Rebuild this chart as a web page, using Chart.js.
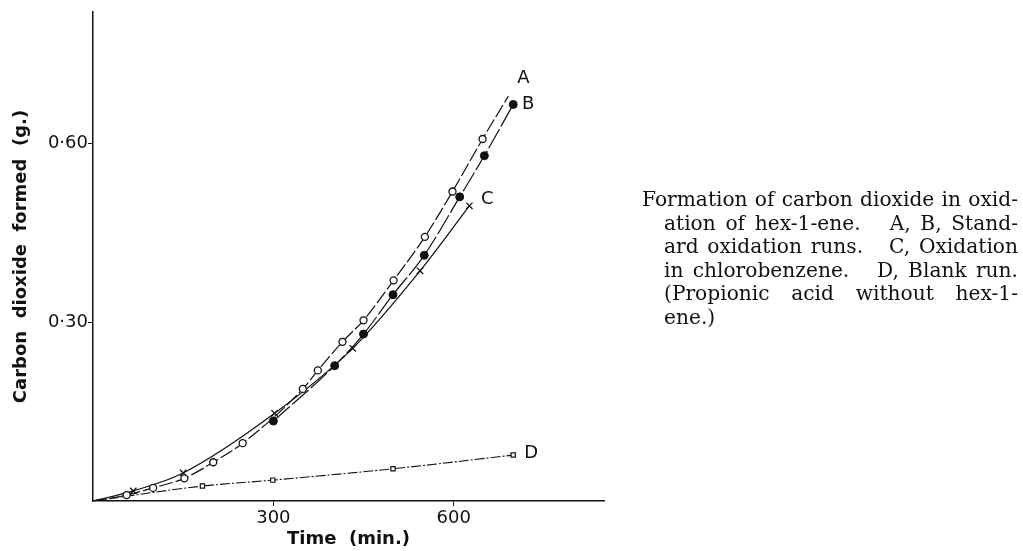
<!DOCTYPE html>
<html>
<head>
<meta charset="utf-8">
<script src="https://cdn.jsdelivr.net/npm/chart.js@4.4.1/dist/chart.umd.min.js"></script>
<style>
  html, body { margin: 0; padding: 0; background: #fff; }
  #wrap { position: relative; width: 1023px; height: 551px; }
  #caption {
    position: absolute; left: 642px; top: 188px; width: 376px;
    font-family: "DejaVu Serif", serif; font-size: 17px; line-height: 23.5px; color: #111;
  }
  #caption div { text-align: justify; text-align-last: justify; white-space: nowrap; }
  #caption div.ind { margin-left: 22px; }
  #caption div.last { text-align-last: left; }
</style>
</head>
<body>
<div id="wrap">
  <canvas id="lineChart" width="1023" height="551"></canvas>
  <div id="caption">
    <div>Formation of carbon dioxide in oxid-</div>
    <div class="ind">ation of hex-1-ene.&nbsp;&nbsp; A, B, Stand-</div>
    <div class="ind">ard oxidation runs.&nbsp;&nbsp; C, Oxidation</div>
    <div class="ind">in chlorobenzene.&nbsp;&nbsp; D, Blank run.</div>
    <div class="ind">(Propionic acid without hex-1-</div>
    <div class="ind last">ene.)</div>
  </div>
</div>
<script>
// time (min.) and CO2 formed (g.)
var timeA = [0, 56, 100, 152, 200, 249, 349, 374, 415, 450, 500, 552, 598, 648, 691];
var co2A  = [0, 0.010, 0.022, 0.038, 0.065, 0.097, 0.188, 0.219, 0.267, 0.303, 0.370, 0.443, 0.519, 0.607, 0.679];

var timeB = [300, 402, 450, 499, 551, 610, 651, 699];
var co2B  = [0.134, 0.227, 0.280, 0.346, 0.412, 0.510, 0.579, 0.665];

var timeC = [0, 67, 150, 302, 432, 544, 626];
var co2C  = [0, 0.017, 0.047, 0.147, 0.256, 0.386, 0.495];

var timeD = [0, 182, 299, 499, 699];
var co2D  = [0, 0.025, 0.035, 0.054, 0.077];

var seriesNames = ["A", "B", "C", "D"];
var xTicks = [300, 600];
var yTicks = [0.30, 0.60];

function pts(xs, ys) {
	return xs.map(function (x, i) { return {x: x, y: ys[i]}; });
}

// size the caption font so the first (tightly set) line just fills the column
(function () {
	var cap = document.getElementById('caption');
	var first = cap.firstElementChild.textContent;
	var m = document.createElement('canvas').getContext('2d');
	m.font = '17px "DejaVu Serif"';
	var w = m.measureText(first).width;
	cap.style.fontSize = (17 * 372 / w).toFixed(2) + 'px';
})();

var sans = '"DejaVu Sans", sans-serif';

// letters A-D next to the last point of each curve
var letterOffsets = [[15, -18], [15, 0], [18, -6], [18, -2]];
var curveLetters = {
	id: 'curveLetters',
	afterDatasetsDraw: function (chart) {
		var ctx = chart.ctx;
		ctx.save();
		ctx.fillStyle = '#111';
		ctx.font = '18px ' + sans;
		ctx.textAlign = 'center';
		ctx.textBaseline = 'middle';
		chart.data.datasets.forEach(function (ds, i) {
			var meta = chart.getDatasetMeta(i);
			var p = meta.data[meta.data.length - 1];
			ctx.fillText(seriesNames[i], p.x + letterOffsets[i][0], p.y + letterOffsets[i][1]);
		});
		ctx.restore();
	}
};

function hideFirst(r) {
	return function (c) { return c.dataIndex === 0 ? 0 : r; };
}
function tickColor(c) {
	return (c.tick && c.tick.value === 0) ? 'rgba(0,0,0,0)' : '#111';
}

var ctxL = document.getElementById("lineChart").getContext('2d');
var myLineChart = new Chart(ctxL, {
	type: 'line',
	data: {
		datasets: [{
			label: seriesNames[0],
			data: pts(timeA, co2A),
			borderColor: '#111',
			borderWidth: 1.2,
			borderDash: [14, 3],
			pointStyle: 'circle',
			pointRadius: function (c) { return (c.dataIndex === 0 || c.dataIndex === timeA.length - 1) ? 0 : 3.5; },
			pointBackgroundColor: '#fff',
			pointBorderColor: '#111',
			pointBorderWidth: 1.3
		},
		{
			label: seriesNames[1],
			data: pts(timeB, co2B),
			borderColor: '#111',
			borderWidth: 1.2,
			borderDash: [22, 3],
			pointStyle: 'circle',
			pointRadius: 4,
			pointBackgroundColor: '#111',
			pointBorderColor: '#111',
			pointBorderWidth: 1
		},
		{
			label: seriesNames[2],
			data: pts(timeC, co2C),
			borderColor: '#111',
			borderWidth: 1.2,
			pointStyle: 'crossRot',
			pointRadius: hideFirst(4.5),
			pointBorderColor: '#111',
			pointBorderWidth: 1.3
		},
		{
			label: seriesNames[3],
			data: pts(timeD, co2D),
			borderColor: '#111',
			borderWidth: 1.1,
			borderDash: [10, 2, 2, 2],
			pointStyle: 'rect',
			pointRadius: hideFirst(3),
			pointBackgroundColor: '#fff',
			pointBorderColor: '#111',
			pointBorderWidth: 1.2
		}]
	},
	options: {
		responsive: false,
		animation: false,
		events: [],
		cubicInterpolationMode: 'monotone',
		tension: 0.4,
		layout: { padding: { left: 0, top: 12, right: 419, bottom: 0 } },
		plugins: { legend: { display: false }, tooltip: { enabled: false } },
		scales: {
			x: {
				type: 'linear',
				min: 0,
				max: 850,
				afterFit: function (s) { s.height = 50; },
				afterBuildTicks: function (s) { s.ticks = [0].concat(xTicks).map(function (v) { return {value: v}; }); },
				border: { display: true, color: '#111', width: 1.5 },
				grid: { drawOnChartArea: false, drawTicks: true, tickLength: 5, color: tickColor },
				ticks: {
					color: '#111',
					padding: 2,
					maxRotation: 0,
					font: { family: sans, size: 18 },
					callback: function (v) { return v === 0 ? '' : String(v); }
				},
				title: {
					display: true,
					text: 'Time  (min.)',
					color: '#111',
					font: { family: sans, size: 18, weight: 'bold' },
					padding: { top: 0, bottom: 1 }
				}
			},
			y: {
				type: 'linear',
				min: 0,
				max: 0.82,
				afterFit: function (s) { s.width = 93; },
				afterBuildTicks: function (s) { s.ticks = [0].concat(yTicks).map(function (v) { return {value: v}; }); },
				border: { display: true, color: '#111', width: 1.5 },
				grid: { drawOnChartArea: false, drawTicks: true, tickLength: 5, color: tickColor },
				ticks: {
					color: '#111',
					padding: 0,
					font: { family: sans, size: 18 },
					callback: function (v) { return v === 0 ? '' : v.toFixed(2).replace('.', '\u00b7'); }
				},
				title: {
					display: true,
					text: 'Carbon  dioxide  formed  (g.)',
					color: '#111',
					font: { family: sans, size: 18, weight: 'bold' },
					padding: { top: 11, bottom: 0 }
				}
			}
		}
	},
	plugins: [curveLetters]
});
</script>
</body>
</html>
